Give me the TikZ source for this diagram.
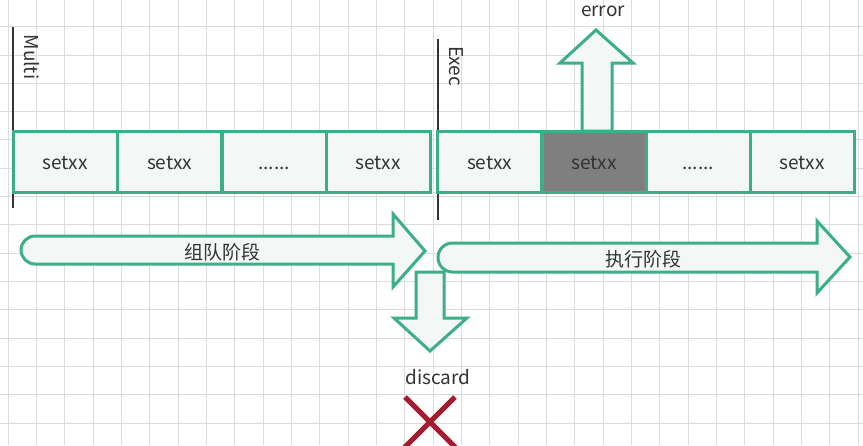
\documentclass[tikz,border=0pt]{standalone}
\usepackage{fontspec}
\setmainfont{Noto Sans CJK SC}
\definecolor{gridc}{HTML}{DCDCDC}
\definecolor{grn}{HTML}{3DAF86}
\definecolor{fillc}{HTML}{F3F7F5}
\definecolor{txt}{HTML}{333333}
\definecolor{redx}{HTML}{A51C30}
\definecolor{grayb}{HTML}{7F7F7F}
\tikzset{
  cell/.style={draw=grn, line width=3pt, fill=fillc, minimum width=104pt, minimum height=61pt, inner sep=0pt, text=txt, text height=18pt, text depth=2pt, font=\fontsize{19}{21}\selectfont},
  bigarrow/.style={draw=grn, line width=3pt, fill=fillc, line join=miter},
  lbl/.style={text=txt, font=\fontsize{19}{22}\selectfont, inner sep=0pt},
  sideline/.style={draw=txt, line width=1.5pt}
}
\begin{document}
\begin{tikzpicture}[x=1pt,y=-1pt]
\useasboundingbox (0,0) rectangle (863,445);
\fill[white] (0,0) rectangle (863,445);
% grid
\foreach \i in {0,...,30} {
  \draw[gridc, line width=1pt] ({8.33+28.33*\i},0) -- ({8.33+28.33*\i},445);
}
\foreach \j in {0,...,15} {
  \draw[gridc, line width=1pt] (0,{26.67+28.33*\j}) -- (863,{26.67+28.33*\j});
}
% side lines
\coordinate (m1) at (13,27); \coordinate (m2) at (13,208);
\coordinate (e1) at (438,39); \coordinate (e2) at (438,220);
\draw[sideline] (m1) -- (m2);
\draw[sideline] (e1) -- (e2);
\node[lbl, rotate=-90] (multi) at (32,57) {Multi};
\node[lbl, rotate=-90] (exec) at (456,66) {Exec};
% left big arrow
\draw[bigarrow] (393,236) [rounded corners=14pt] -- (21,236) -- (21,264) [sharp corners] -- (393,264) -- (393,287) -- (425,251) -- (393,214) -- cycle;
\node[lbl] (phase1) at (222,252) {组队阶段};
% down arrow
\draw[bigarrow] (416,272) -- (416,318) -- (394,318) -- (430,351) -- (467,318) -- (444,318) -- (444,272) -- cycle;
% right big arrow
\draw[bigarrow] (817,243) [rounded corners=14.5pt] -- (438,243) -- (438,272) [sharp corners] -- (817,272) -- (817,293) -- (850,257) -- (817,221) -- cycle;
\node[lbl] (phase2) at (643,259) {执行阶段};
% up arrow
\draw[bigarrow] (582,131) -- (582,63) -- (560,63) -- (596,30) -- (633,63) -- (612,63) -- (612,131) -- cycle;
\node[lbl, anchor=base] (error) at (603,16) {error};
% cells
\node[cell] (a1) at (65,161.5) {setxx};
\node[cell] (a2) at (169.5,161.5) {setxx};
\node[cell] (a3) at (274,161.5) {......};
\node[cell] (a4) at (378,161.5) {setxx};
\node[cell] (b1) at (489.5,161.5) {setxx};
\node[cell, fill=grayb] (b2) at (594,161.5) {setxx};
\node[cell] (b3) at (698,161.5) {......};
\node[cell] (b4) at (802,161.5) {setxx};
% discard
\node[lbl] (discard) at (438,377) {discard};
\coordinate (x1) at (405,397); \coordinate (x2) at (457,449);
\coordinate (x3) at (455,397); \coordinate (x4) at (403,449);
\draw[redx, line width=5pt] (x1) -- (x2);
\draw[redx, line width=5pt] (x3) -- (x4);
\end{tikzpicture}
\end{document}
